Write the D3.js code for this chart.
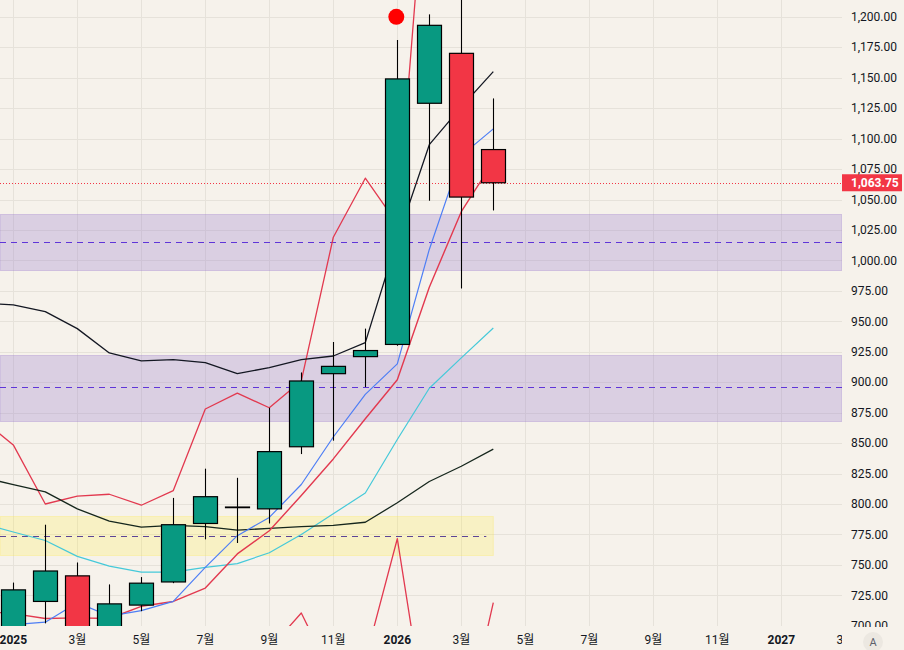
<!DOCTYPE html>
<html>
<head>
<meta charset="utf-8">
<script src="https://d3js.org/d3.v7.min.js"></script>
<style>
  body { margin: 0; background: #f6f2eb; }
  svg { display: block; font-family: Roboto, "Noto Sans CJK KR", sans-serif; }
</style>
</head>
<body>
<script>
const w = 904, h = 650
const plotW = 842, plotH = 626

// month index: 0 = 2025-01 ... 15 = 2026-04
const candleMonths = d3.range(0, 16)
const opens  = [690, 720, 741, 695, 717, 736, 784, 797, 796, 847, 907, 921, 931, 1129, 1170, 1091]
const highs  = [735.5, 783, 752, 734, 740, 805, 829, 821.5, 879, 908, 933, 944, 1181, 1202, 1230, 1133]
const lows   = [684, 702, 686, 690, 712, 735, 771, 768, 784, 841, 852, 896, 930, 1049, 977, 1041]
const closes = [729.5, 745, 695, 718, 735, 783, 806, 797.5, 843, 901, 913, 926, 1149, 1193, 1052, 1063.75]

// indicator lines, month index -1 (2024-12) ... 15 (2026-04)
const lineMonths = d3.range(-1, 16)
const maUpper   = [965, 963.5, 958, 944, 924, 917.5, 918.5, 916, 907, 912, 918.5, 921.5, 932.5, 1017.5, 1095, 1126, 1155]
const maLower   = [822, 816, 810, 796, 786, 781, 782.5, 781.5, 778.5, 780, 781.5, 782.5, 785, 801, 818.5, 831, 845]
const cyanLine  = [784, 777, 770, 757, 749, 744, 744, 748, 751, 760, 775, 792, 809, 853, 895, 920, 944.5]
const blueLine  = [696, 701, 703, 719, 708, 712.5, 720, 748, 774, 789, 816, 855, 890, 915, 1009, 1086, 1108]
const redLine   = [712, 710, 706, 706.5, 706, 716, 720, 731, 759, 778, 807, 837, 870, 902, 978, 1040, 1081]
const bandUpper = [870, 848.5, 800, 806.5, 808, 799, 811, 878, 891, 879, 901, 1019, 1067.5, 1030, 1360, 1400, 1380]
const bandLower = [655, 645, 620, 630, 640, 650, 660, 665, 672, 681, 710.5, 657, 672, 771.5, 605, 603, 719]

// horizontal zones
const zoneTops    = [1038.5, 922.5, 790]
const zoneBottoms = [992.5, 868.5, 758]
const zoneMids    = [1015.5, 896, 773.8]
const zoneEnds    = [null, null, 15]   // month index where zone stops (null = right edge)
const zoneKinds   = ["purple", "purple", "yellow"]

// signal dot and last price
const signalMonth = 12, signalValue = 1200
const lastPrice = 1063.75

// time axis labels every 2 months
const tickMonths = d3.range(0, 28, 2)
const tickLabels = ["2025", "3월", "5월", "7월", "9월", "11월", "2026", "3월", "5월", "7월", "9월", "11월", "2027", "3월"]
const priceTicks = d3.range(700, 1201, 25)

const x = d3.scaleLinear().domain([-13.3 / 32, (plotW - 13.3) / 32]).range([0, plotW])
const y = d3.scaleLinear().domain([700, 1200]).range([625.8, 16.8])
const fmt = d3.format(",.2f")
const crisp = v => Math.round(v) + 0.5

const svg = d3.select("body").append("svg").attr("width", w).attr("height", h)
svg.append("rect").attr("width", w).attr("height", h).attr("fill", "#f6f2eb")

const defs = svg.append("defs")
defs.append("clipPath").attr("id", "plotClip").append("rect").attr("width", plotW).attr("height", plotH)
defs.append("clipPath").attr("id", "timeClip").append("rect").attr("y", plotH).attr("width", plotW).attr("height", h - plotH)
defs.append("clipPath").attr("id", "priceClip").append("rect").attr("x", plotW).attr("width", w - plotW).attr("height", plotH + 1)

const plot = svg.append("g").attr("clip-path", "url(#plotClip)")

// grid
plot.selectAll(".hgrid").data(priceTicks).enter().append("line")
    .attr("x1", 0).attr("x2", plotW)
    .attr("y1", d => crisp(y(d))).attr("y2", d => crisp(y(d)))
    .attr("stroke", "#e6e2da").attr("stroke-width", 1)
plot.selectAll(".vgrid").data(tickMonths).enter().append("line")
    .attr("x1", d => crisp(x(d))).attr("x2", d => crisp(x(d)))
    .attr("y1", 0).attr("y2", plotH)
    .attr("stroke", "#e6e2da").attr("stroke-width", 1)

// zones
zoneTops.forEach((top, i) => {
    const x2 = zoneEnds[i] == null ? plotW : x(zoneEnds[i])
    const purple = zoneKinds[i] === "purple"
    plot.append("rect")
        .attr("x", 0).attr("width", x2)
        .attr("y", crisp(y(top))).attr("height", Math.round(y(zoneBottoms[i]) - y(top)))
        .attr("fill", purple ? "rgba(149,117,205,0.28)" : "rgba(255,235,59,0.22)")
        .attr("stroke", purple ? "rgba(149,117,205,0.3)" : "rgba(255,235,59,0.25)")
    plot.append("line")
        .attr("x1", 0).attr("x2", purple ? plotW : x2 - 7)
        .attr("y1", crisp(y(zoneMids[i]))).attr("y2", crisp(y(zoneMids[i])))
        .attr("stroke", purple ? "#5f35d8" : "#5d4596")
        .attr("stroke-width", 1)
        .attr("stroke-dasharray", "6,5")
})

// last price dotted line
plot.append("line")
    .attr("x1", 0).attr("x2", plotW)
    .attr("y1", crisp(y(lastPrice))).attr("y2", crisp(y(lastPrice)))
    .attr("stroke", "#f23645").attr("stroke-width", 1)
    .attr("stroke-dasharray", "1,2")

// indicator lines
const lineGen = d3.line().x((d, i) => x(lineMonths[i])).y(d => y(d))
const series = [
    [bandLower, "#e2394f", 1.3],
    [bandUpper, "#e2394f", 1.3],
    [cyanLine, "#45c9d9", 1.2],
    [maLower, "#15261c", 1.3],
    [redLine, "#e2394f", 1.4],
    [blueLine, "#4d7ef5", 1.2],
    [maUpper, "#131722", 1.3]
]
series.forEach(s => {
    plot.append("path").datum(s[0])
        .attr("d", lineGen)
        .attr("fill", "none")
        .attr("stroke", s[1])
        .attr("stroke-width", s[2])
        .attr("stroke-linejoin", "round")
})

// candles
const candles = candleMonths.map((m, i) => ({ m, o: opens[i], h: highs[i], l: lows[i], c: closes[i] }))
const bw = 24
const cg = plot.selectAll(".candle").data(candles).enter().append("g")
cg.append("line")
    .attr("x1", d => crisp(x(d.m))).attr("x2", d => crisp(x(d.m)))
    .attr("y1", d => y(d.h)).attr("y2", d => y(d.l))
    .attr("stroke", "#000").attr("stroke-width", 1.1)
cg.append("rect")
    .attr("x", d => crisp(x(d.m)) - bw / 2)
    .attr("width", bw)
    .attr("y", d => y(Math.max(d.o, d.c)))
    .attr("height", d => Math.max(0.5, Math.abs(y(d.o) - y(d.c))))
    .attr("fill", d => d.c >= d.o ? "#089981" : "#f23645")
    .attr("stroke", "#000").attr("stroke-width", 1.2)

// signal dot
plot.append("circle")
    .attr("cx", x(signalMonth) - 1).attr("cy", y(signalValue))
    .attr("r", 8).attr("fill", "#ff0000")

// price axis
const pa = svg.append("g").attr("clip-path", "url(#priceClip)")
pa.selectAll(".plab").data(priceTicks).enter().append("text")
    .attr("x", 851).attr("y", d => y(d))
    .attr("dy", "0.35em")
    .attr("font-size", 12)
    .attr("fill", "#131722")
    .text(d => fmt(d))
pa.append("rect")
    .attr("x", plotW).attr("y", y(lastPrice) - 8.5)
    .attr("width", 60).attr("height", 17)
    .attr("fill", "#f23645")
pa.append("text")
    .attr("x", 851).attr("y", y(lastPrice))
    .attr("dy", "0.35em")
    .attr("font-size", 12).attr("font-weight", "bold")
    .attr("fill", "#fff")
    .text(fmt(lastPrice))

// time axis
const ta = svg.append("g").attr("clip-path", "url(#timeClip)")
ta.selectAll(".tlab").data(tickMonths).enter().append("text")
    .attr("x", d => x(d)).attr("y", 640)
    .attr("dy", "0.35em")
    .attr("text-anchor", "middle")
    .attr("font-size", 12)
    .attr("font-weight", (d, i) => /^\d{4}$/.test(tickLabels[i]) ? "bold" : "normal")
    .attr("fill", "#131722")
    .text((d, i) => tickLabels[i])

// auto-scale button
svg.append("circle").attr("cx", 873).attr("cy", 642).attr("r", 10).attr("fill", "#ece8e1")
svg.append("text").attr("x", 873).attr("y", 642).attr("dy", "0.35em")
    .attr("text-anchor", "middle").attr("font-size", 11).attr("fill", "#5d606b").text("A")
</script>
</body>
</html>
